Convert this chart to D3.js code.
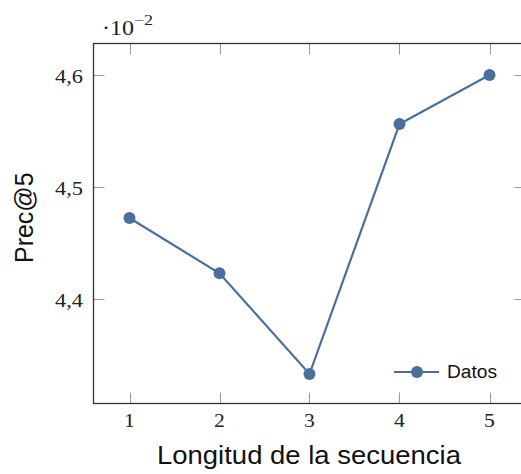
<!DOCTYPE html>
<html><head><meta charset="utf-8">
<script src="https://cdn.jsdelivr.net/npm/d3@7"></script>
<style>body{margin:0;background:#fff}svg{display:block}</style>
</head><body>
<svg id="c" width="521" height="474"></svg>
<script>
const xValues = [1, 2, 3, 4, 5];
const yValues = [4.4726, 4.4232, 4.3333, 4.5565, 4.6003];
const xTicks = [1, 2, 3, 4, 5];
const yTicks = [4.4, 4.5, 4.6];
const seriesName = "Datos";
const color = "#4a6f9c";

const svg = d3.select("#c");
const L = 93.5, R = 525.5, T = 43.5, B = 403.5;
const x = d3.scaleLinear().domain([0.6, 5.4]).range([L, R]);
const y = d3.scaleLinear().domain([4.30696, 4.62839]).range([B, T]);

const tickLen = 11;
const tg = svg.append("g").attr("stroke", "#999").attr("stroke-width", 1);
xTicks.forEach(v => {
  const xp = Math.round(x(v)) + 0.5;
  tg.append("line").attr("x1", xp).attr("x2", xp).attr("y1", B).attr("y2", B - tickLen);
  tg.append("line").attr("x1", xp).attr("x2", xp).attr("y1", T).attr("y2", T + tickLen);
});
yTicks.forEach(v => {
  const yp = Math.round(y(v)) + 0.5;
  tg.append("line").attr("x1", L).attr("x2", L + tickLen).attr("y1", yp).attr("y2", yp);
  tg.append("line").attr("x1", R).attr("x2", R - tickLen).attr("y1", yp).attr("y2", yp);
});

svg.append("rect").attr("x", L).attr("y", T).attr("width", R - L).attr("height", B - T)
  .attr("fill", "none").attr("stroke", "#333").attr("stroke-width", 1.3);

const serif = "'Liberation Serif','Times New Roman',serif";
const sans = "'Liberation Sans',Arial,sans-serif";
svg.append("g").selectAll("text").data(xTicks).join("text")
  .attr("x", d => x(d)).attr("y", 427).attr("text-anchor", "middle")
  .attr("font-family", serif).attr("font-size", 18).attr("fill", "#222")
  .attr("transform", d => `translate(${x(d)},0) scale(1.2,1) translate(${-x(d)},0)`)
  .text(d => d);
svg.append("g").selectAll("text").data(yTicks).join("text")
  .attr("x", 55).attr("y", d => y(d) + 7.4)
  .attr("font-family", serif).attr("font-size", 18).attr("fill", "#222")
  .attr("textLength", 28).attr("lengthAdjust", "spacingAndGlyphs")
  .text(d => d.toFixed(1).replace(".", ","));

const ex = svg.append("text").attr("transform", "translate(102,35) scale(1.2,1)")
  .attr("font-family", serif).attr("font-size", 20).attr("fill", "#222");
ex.append("tspan").text("·10");
ex.append("tspan").attr("dy", -10).attr("font-size", 15).text("−2");

svg.append("text").attr("x", 157).attr("y", 463.5)
  .attr("font-family", sans).attr("font-size", 25).attr("fill", "#111")
  .attr("textLength", 304).attr("lengthAdjust", "spacingAndGlyphs")
  .text("Longitud de la secuencia");
svg.append("text").attr("transform", "translate(33.3,217.7) rotate(-90)").attr("text-anchor", "middle")
  .attr("font-family", sans).attr("font-size", 25).attr("fill", "#111")
  .text("Prec@5");

const data = xValues.map((v, i) => [v, yValues[i]]);
svg.append("path").datum(data)
  .attr("d", d3.line().x(d => x(d[0])).y(d => y(d[1])))
  .attr("fill", "none").attr("stroke", color).attr("stroke-width", 2.2);
svg.append("g").selectAll("circle").data(data).join("circle")
  .attr("cx", d => x(d[0])).attr("cy", d => y(d[1])).attr("r", 6).attr("fill", color);

const lg = svg.append("g");
lg.append("line").attr("x1", 394).attr("x2", 439).attr("y1", 372).attr("y2", 372)
  .attr("stroke", color).attr("stroke-width", 2.2);
lg.append("circle").attr("cx", 417).attr("cy", 372).attr("r", 6).attr("fill", color);
lg.append("text").attr("x", 447).attr("y", 378).attr("font-family", sans)
  .attr("font-size", 18).attr("fill", "#111")
  .attr("textLength", 50).attr("lengthAdjust", "spacingAndGlyphs").text(seriesName);
</script>
</body></html>
